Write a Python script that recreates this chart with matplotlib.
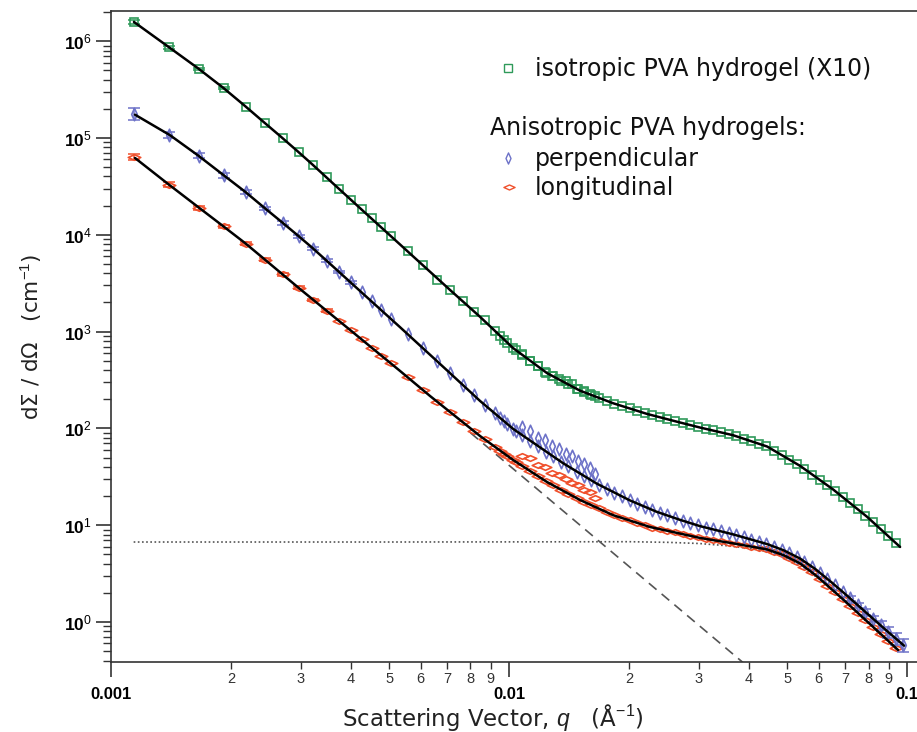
import matplotlib
matplotlib.use('Agg')
import matplotlib.pyplot as plt
from matplotlib.path import Path
from matplotlib.lines import Line2D
from matplotlib.ticker import NullFormatter

plt.rcParams['font.family'] = ['Liberation Sans', 'DejaVu Sans']
plt.rcParams['mathtext.fontset'] = 'custom'
plt.rcParams['mathtext.rm'] = 'Liberation Sans'
plt.rcParams['mathtext.it'] = 'Liberation Sans:italic'
plt.rcParams['mathtext.bf'] = 'Liberation Sans:bold'

# low-q detector setting (q in 1/A)
q_a = [0.00114, 0.00140, 0.00166, 0.00192, 0.00218, 0.00244, 0.00270, 0.00296,
       0.00322, 0.00348, 0.00374, 0.00400, 0.00426, 0.00452, 0.00478, 0.00504,
       0.00556, 0.00608, 0.00660, 0.00712, 0.00764, 0.00816, 0.00868, 0.00920,
       0.00972, 0.01024, 0.01076, 0.01128, 0.01180, 0.01232, 0.01284, 0.01336,
       0.01388, 0.01440, 0.01492, 0.01544, 0.01596, 0.01648]
# high-q detector setting
q_b = [0.0095, 0.0099, 0.0104, 0.0108, 0.0113, 0.0118, 0.0124, 0.0129, 0.0135,
       0.0141, 0.0148, 0.0154, 0.0161, 0.0168, 0.0176, 0.0184, 0.0192, 0.0201,
       0.0210, 0.0219, 0.0229, 0.0239, 0.0250, 0.0261, 0.0273, 0.0285, 0.0298,
       0.0312, 0.0326, 0.0340, 0.0356, 0.0372, 0.0389, 0.0406, 0.0424, 0.0443,
       0.0463, 0.0484, 0.0506, 0.0529, 0.0552, 0.0577, 0.0603, 0.0631, 0.0659,
       0.0689, 0.0720, 0.0752, 0.0786, 0.0821, 0.0858, 0.0897, 0.0937, 0.0979]

# isotropic gel (x10)
iso_a = [1.58e6, 8.65e5, 5.19e5, 3.27e5, 2.11e5, 1.42e5, 9.91e4, 7.13e4,
         5.24e4, 3.91e4, 2.98e4, 2.31e4, 1.83e4, 1.50e4, 1.19e4, 9.75e3,
         6.75e3, 4.83e3, 3.45e3, 2.67e3, 2.06e3, 1.61e3, 1.31e3, 1.02e3,
         824, 675, 590, 502, 445, 385, 348, 325, 305, 285, 258, 245, 228, 214]
iso_b = [902, 769, 644, 574, 500, 438, 377, 344, 312, 284, 256, 238, 222, 207,
         193, 180, 171, 161, 152, 144, 137, 131, 124, 119, 113, 108, 104, 99.1,
         95.1, 91.2, 87.3, 83.0, 78.0, 73.5, 69.0, 65.0, 58.6, 52.7, 47.3, 42.6,
         37.9, 33.3, 29.4, 25.8, 22.6, 19.5, 16.8, 14.6, 12.5, 10.7, 9.08, 7.69, 6.53]
iso_err = [0.04, 0.03, 0.03, 0.025]

# anisotropic gel, perpendicular
perp_a = [1.78e5, 1.08e5, 6.53e4, 4.11e4, 2.75e4, 1.87e4, 1.33e4, 9.68e3,
          7.19e3, 5.40e3, 4.13e3, 3.22e3, 2.55e3, 2.05e3, 1.66e3, 1.36e3,
          940, 670, 491, 369, 282, 220, 175, 143, 118, 98.6,
          103, 94, 79, 76, 65, 61, 55, 52, 46, 43, 39, 34]
perp_b = [128, 111, 94.4, 84.9, 74.7, 66.1, 57.4, 51.4, 45.2, 40.4, 35.8, 32.4,
          29.0, 26.2, 23.8, 21.7, 19.9, 18.1, 16.7, 15.5, 14.4, 13.4, 12.6, 11.8,
          11.1, 10.5, 9.95, 9.44, 9.03, 8.65, 8.26, 7.89, 7.46, 7.10, 6.74, 6.41,
          6.00, 5.60, 5.14, 4.69, 4.21, 3.72, 3.24, 2.78, 2.39, 2.05, 1.75, 1.49,
          1.26, 1.08, 0.920, 0.785, 0.673, 0.577]
perp_err = [0.14, 0.07, 0.06, 0.05, 0.05, 0.04, 0.04, 0.035, 0.03, 0.03, 0.03, 0.03]
perp_tail_err = [0.05, 0.06, 0.07, 0.08, 0.10, 0.12, 0.14, 0.16]

# anisotropic gel, longitudinal
long_a = [6.37e4, 3.28e4, 1.91e4, 1.22e4, 8.11e3, 5.51e3, 3.89e3, 2.84e3,
          2.13e3, 1.65e3, 1.29e3, 1.03e3, 830, 679, 562, 470,
          337, 249, 189, 147, 117, 94.0, 77.1, 64.9, 55.0, 47.1,
          52, 49, 42, 40, 35, 33, 30, 27, 26, 23, 22, 19]
long_b = [59.0, 52.2, 45.2, 40.8, 36.2, 32.3, 28.3, 25.8, 23.3, 21.2, 19.0, 17.5,
          16.1, 14.9, 13.6, 12.6, 11.9, 11.2, 10.5, 9.98, 9.46, 9.10, 8.74, 8.41,
          8.07, 7.78, 7.46, 7.21, 7.00, 6.81, 6.59, 6.40, 6.21, 6.02, 5.82, 5.64,
          5.31, 4.98, 4.58, 4.18, 3.73, 3.25, 2.80, 2.38, 2.03, 1.73, 1.47, 1.24,
          1.05, 0.893, 0.755, 0.637, 0.540]
long_err = [0.08, 0.06, 0.05, 0.04, 0.04, 0.035, 0.03, 0.03, 0.03, 0.025]

# model fits
fit_iso_q = [0.001142, 0.001398, 0.001654, 0.001912, 0.002171, 0.00241, 0.002658,
             0.002933, 0.003199, 0.003613, 0.004397, 0.005323, 0.007109, 0.008456,
             0.010235, 0.012462, 0.015083, 0.018247, 0.022223, 0.026891, 0.030197,
             0.03654, 0.044486, 0.053845, 0.065179, 0.07934, 0.09603]
fit_iso_i = [1.58e6, 8.67e5, 5.25e5, 3.31e5, 2.14e5, 1.48e5, 1.05e5, 7.38e4, 5.37e4,
             3.39e4, 1.62e4, 7.94e3, 2.69e3, 1.42e3, 676, 372, 245, 182, 141, 115,
             102, 85, 65, 41, 23.4, 12.2, 5.96]
fit_perp_q = [0.001149, 0.001406, 0.001654, 0.001912, 0.002171, 0.00241, 0.002705,
              0.002933, 0.003199, 0.003613, 0.004397, 0.005323, 0.007109, 0.008456,
              0.010235, 0.013668, 0.0166, 0.020137, 0.02344, 0.026891, 0.030197,
              0.03654, 0.044486, 0.04898, 0.053845, 0.05888, 0.06457, 0.06985,
              0.07943, 0.08913, 0.09828]
fit_perp_i = [1.74e5, 1.07e5, 6.61e4, 4.17e4, 2.79e4, 1.95e4, 1.32e4, 1.0e4, 7.38e3,
              4.70e3, 2.26e3, 1.11e3, 372, 192, 98.9, 43.7, 26.9, 18.0, 13.8, 11.35,
              9.77, 8.04, 6.38, 5.50, 4.52, 3.51, 2.57, 1.95, 1.22, 0.804, 0.569]
fit_long_q = [0.001149, 0.001391, 0.001654, 0.001912, 0.002171, 0.00241, 0.002985,
              0.003986, 0.005323, 0.006332, 0.008456, 0.010235, 0.012462, 0.015083,
              0.018247, 0.02262, 0.030197, 0.03654, 0.044486, 0.04898, 0.053845,
              0.05888, 0.06457, 0.06985, 0.07943, 0.08913, 0.09493]
fit_long_i = [6.21e4, 3.35e4, 1.94e4, 1.23e4, 8.22e3, 5.75e3, 2.75e3, 1.04e3, 392,
              216, 83.4, 47.2, 27.9, 18.2, 12.7, 9.57, 7.38, 6.49, 5.62, 4.90, 4.03,
              3.05, 2.19, 1.64, 1.01, 0.653, 0.513]

# power-law and plateau components of the longitudinal fit
power_q = [0.0080, 0.0400]
power_i = [90, 0.34]
plateau_q = [0.00114, 0.005, 0.01, 0.02, 0.025, 0.03, 0.035, 0.04, 0.045, 0.05,
             0.055, 0.06, 0.065, 0.07, 0.08, 0.09, 0.095]
plateau_i = [6.7, 6.7, 6.72, 6.75, 6.65, 6.47, 6.15, 5.77, 5.3, 4.55, 3.68, 2.78,
             2.1, 1.6, 0.96, 0.61, 0.50]

GREEN = '#2f9a5a'
BLUE = '#6d72c8'
RED = '#f0502c'

tall_diamond = Path([(0, 1), (0.45, 0), (0, -1), (-0.45, 0), (0, 1)], closed=True)
flat_diamond = Path([(-1, 0), (0, 0.45), (1, 0), (0, -0.45), (-1, 0)], closed=True)

W, H = 917, 732
fig = plt.figure(figsize=(W / 100, H / 100), dpi=100)
ax = fig.add_axes([111 / W, 70 / H, 806 / W, 651 / H])
ax.set_xscale('log')
ax.set_yscale('log')


def draw_set(q, vals, marker, color, ms):
    ax.plot(q[:len(vals)], vals, ls='none', marker=marker, ms=ms, mfc='none',
            mec=color, mew=1.2, zorder=3)


def draw_err(q, vals, frac, color):
    ax.errorbar(q, vals, yerr=[f * v for f, v in zip(frac, vals)], fmt='none',
                ecolor=color, elinewidth=1.1, capsize=4.5, capthick=1.1, zorder=3)


ax.plot(power_q, power_i, color='#555555', lw=1.2, ls=(0, (6, 4)), zorder=2)
ax.plot(plateau_q, plateau_i, color='#555555', lw=1.2, ls=(0, (1, 1.5)), zorder=2)

draw_set(q_a, long_a, flat_diamond, RED, 9)
draw_set(q_b, long_b, flat_diamond, RED, 9)
draw_err(q_a[:len(long_err)], long_a[:len(long_err)], long_err, RED)

draw_set(q_a, perp_a, tall_diamond, BLUE, 9)
draw_set(q_b, perp_b, tall_diamond, BLUE, 9)
draw_err(q_a[:len(perp_err)], perp_a[:len(perp_err)], perp_err, BLUE)
n = len(perp_tail_err)
draw_err(q_b[-n:], perp_b[-n:], perp_tail_err, BLUE)

draw_set(q_a, iso_a, 's', GREEN, 6.3)
draw_set(q_b, iso_b, 's', GREEN, 6.3)
draw_err(q_a[:len(iso_err)], iso_a[:len(iso_err)], iso_err, GREEN)

for fq, fi in [(fit_iso_q, fit_iso_i), (fit_perp_q, fit_perp_i), (fit_long_q, fit_long_i)]:
    ax.plot(fq, fi, color='black', lw=1.8, zorder=4, solid_capstyle='round',
            solid_joinstyle='round')

ax.set_xlim(0.001, 0.1059)
ax.set_ylim(0.386, 2.05e6)

ax.spines['right'].set_visible(False)
for side in ['left', 'bottom', 'top']:
    ax.spines[side].set_linewidth(1.2)
    ax.spines[side].set_color('#333333')

ax.set_xticks([0.001, 0.01, 0.1])
ax.set_xticklabels(['0.001', '0.01', '0.1'], fontweight='bold', fontsize=12)
x_minor = [m * d for d in (0.001, 0.01) for m in range(2, 10)]
ax.set_xticks(x_minor, minor=True)
ax.set_xticklabels([str(m) for d in (0.001, 0.01) for m in range(2, 10)],
                   minor=True, fontsize=10.5, color='#333333')
ax.tick_params(axis='x', which='major', direction='out', length=11, width=1.2,
               pad=7, color='#333333')
ax.tick_params(axis='x', which='minor', direction='out', length=5, width=1.0,
               pad=2, color='#333333')

ax.set_yticks([10.0 ** k for k in range(0, 7)])
ax.set_yticklabels([r'$\mathbf{10}^{\mathrm{%d}}$' % k for k in range(0, 7)], fontsize=12.5)
y_minor = [m * 10.0 ** k for k in range(-1, 7) for m in range(2, 10)]
ax.set_yticks([v for v in y_minor if 0.386 < v < 2.05e6], minor=True)
ax.yaxis.set_minor_formatter(NullFormatter())
ax.tick_params(axis='y', which='major', direction='out', length=11, width=1.2,
               pad=3, color='#333333')
ax.tick_params(axis='y', which='minor', direction='out', length=6, width=1.0,
               color='#333333')
ax.tick_params(top=False, right=False)

ax.set_ylabel('d\u03a3 / d\u03a9   (cm$^{-1}$)', family='DejaVu Sans',
              fontsize=15.5, color='#222222')
ax.yaxis.set_label_coords(-0.083, 0.5)
# x label placed by its baseline so the tall A-ring stays clear of the tick labels
fig.text(493 / W, 1 - 726 / H, 'Scattering Vector, $q$   (\u00c5$^{-1}$)',
         family='DejaVu Sans', fontsize=16.5, color='#222222',
         ha='center', va='baseline')

# legend drawn by hand, in figure pixels
legend_font = dict(family='DejaVu Sans', fontsize=17, color='#111111',
                   ha='left', va='baseline')
fig.text(535 / W, 1 - 76 / H, 'isotropic PVA hydrogel (X10)', **legend_font)
fig.text(490 / W, 1 - 135 / H, 'Anisotropic PVA hydrogels:', **legend_font)
fig.text(535 / W, 1 - 166 / H, 'perpendicular', **legend_font)
fig.text(535 / W, 1 - 195 / H, 'longitudinal', **legend_font)
for (px, py), mk, col, ms in [((508, 68), 's', GREEN, 5.5),
                              ((508, 158), tall_diamond, BLUE, 8),
                              ((509, 187), flat_diamond, RED, 8)]:
    fig.add_artist(Line2D([px / W], [1 - py / H], transform=fig.transFigure,
                          ls='none', marker=mk, ms=ms, mfc='none', mec=col, mew=1.0))

fig.savefig('out.png', dpi=100)
